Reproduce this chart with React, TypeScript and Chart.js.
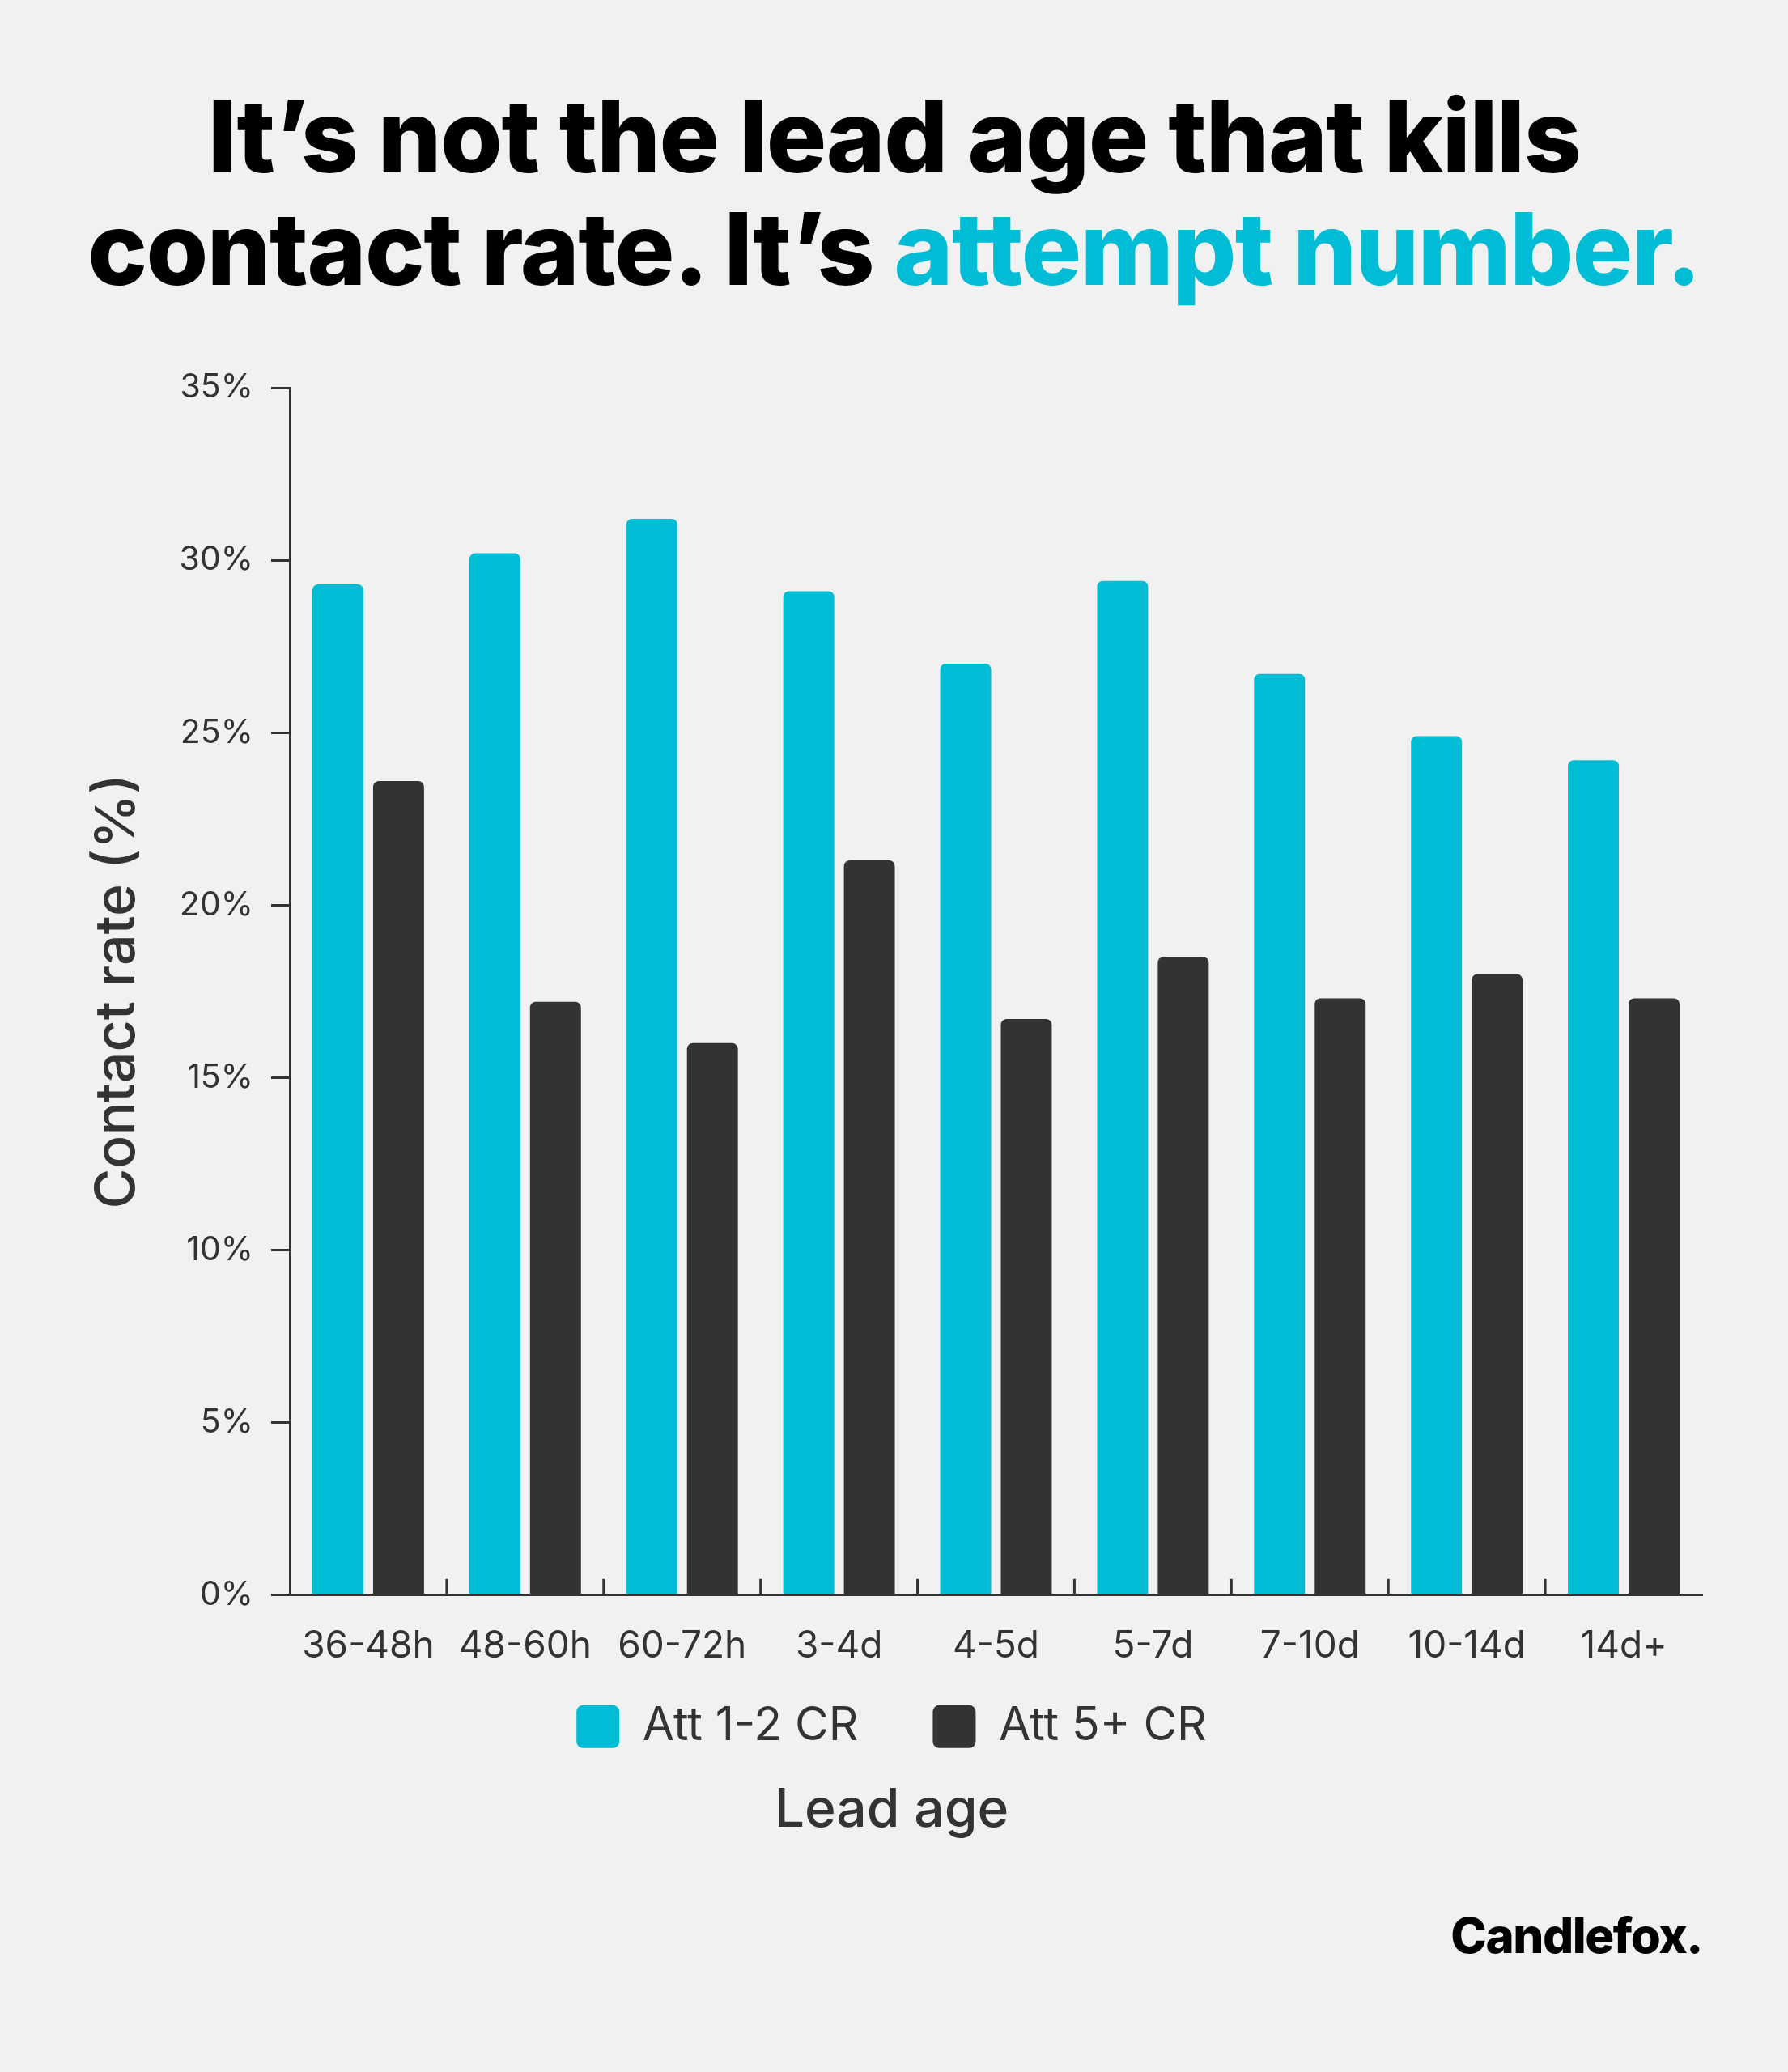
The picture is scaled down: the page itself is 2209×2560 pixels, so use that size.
import React, { useEffect, useRef } from "react";
import { Chart, registerables } from "chart.js";

Chart.register(...registerables);

const categories = ["36-48h", "48-60h", "60-72h", "3-4d", "4-5d", "5-7d", "7-10d", "10-14d", "14d+"];
const att12 = [29.3, 30.2, 31.2, 29.1, 27.0, 29.4, 26.7, 24.9, 24.2];
const att5 = [23.6, 17.2, 16.0, 21.3, 16.7, 18.5, 17.3, 18.0, 17.3];
const seriesLabels = ["Att 1-2 CR", "Att 5+ CR"];
const yMin = 0;
const yMax = 35;
const yStep = 5;

const CYAN = "#00BCD4";
const DARK = "#333333";
const BG = "#F1F1F1";
const FONT = "Inter, 'Noto Sans', sans-serif";

const innerTicks = {
  id: "innerTicks",
  afterDatasetsDraw(chart: any) {
    const x = chart.scales.x;
    const area = chart.chartArea;
    const ctx = chart.ctx;
    ctx.save();
    ctx.strokeStyle = DARK;
    ctx.lineWidth = 3;
    for (let i = 1; i < categories.length; i++) {
      const px = (x.getPixelForValue(i - 1) + x.getPixelForValue(i)) / 2;
      ctx.beginPath();
      ctx.moveTo(px, area.bottom - 20);
      ctx.lineTo(px, area.bottom);
      ctx.stroke();
    }
    ctx.restore();
  },
};

const titleLine: React.CSSProperties = {
  position: "absolute",
  left: 0,
  width: 2209,
  textAlign: "center",
  fontFamily: FONT,
  fontWeight: 800,
  fontSize: 124,
  lineHeight: "124px",
  letterSpacing: -1.5,
  color: "#000",
  whiteSpace: "nowrap",
};

export default function App() {
  const ref = useRef<HTMLCanvasElement | null>(null);

  useEffect(() => {
    if (!ref.current) return;
    const chart = new Chart(ref.current, {
      type: "bar",
      data: {
        labels: categories,
        datasets: [
          {
            label: seriesLabels[0],
            data: att12,
            backgroundColor: CYAN,
            borderWidth: 0,
            borderRadius: 7,
            categoryPercentage: 0.773,
            barPercentage: 0.84,
          },
          {
            label: seriesLabels[1],
            data: att5,
            backgroundColor: DARK,
            borderWidth: 0,
            borderRadius: 7,
            categoryPercentage: 0.773,
            barPercentage: 0.84,
          },
        ],
      },
      plugins: [innerTicks],
      options: {
        animation: false,
        responsive: false,
        devicePixelRatio: 1,
        layout: { padding: { left: 100, right: 106, top: 479, bottom: 283 } },
        plugins: {
          tooltip: { enabled: false },
          legend: {
            position: "bottom",
            maxHeight: 170,
            labels: {
              font: { family: FONT, size: 57 },
              color: DARK,
              boxWidth: 53,
              boxHeight: 53,
              useBorderRadius: true,
              borderRadius: 8,
              padding: 92,
            },
          },
          title: {
            display: true,
            position: "bottom",
            text: "Lead age",
            color: DARK,
            font: { family: FONT, size: 66, weight: "500" },
            padding: { top: 26, bottom: 0 },
          },
        },
        scales: {
          x: {
            grid: { display: false, drawTicks: false },
            border: { display: true, color: DARK, width: 3 },
            ticks: { font: { family: FONT, size: 46 }, color: DARK, padding: 36, maxRotation: 0, autoSkip: false },
            afterFit: (s: any) => {
              s.height = 42;
              s._computeLabelArea = () => undefined;
            },
          },
          y: {
            min: yMin,
            max: yMax,
            ticks: {
              stepSize: yStep,
              font: { family: FONT, size: 41 },
              color: DARK,
              padding: 22,
              callback: (v: any) => v + "%",
            },
            grid: { display: true, drawOnChartArea: false, drawTicks: true, tickLength: 23, color: DARK, lineWidth: 3 },
            border: { display: true, color: DARK, width: 3 },
            title: {
              display: true,
              text: "Contact rate (%)",
              color: DARK,
              font: { family: FONT, size: 68, weight: "500" },
              padding: { top: 5, bottom: 0 },
            },
            afterFit: (s: any) => {
              s.width = 258;
            },
          },
        },
      },
    } as any);
    return () => chart.destroy();
  }, []);

  return (
    <div style={{ position: "absolute", left: 0, top: 0, width: 2209, height: 2560, background: BG, overflow: "hidden" }}>
      <div style={{ ...titleLine, top: 106 }}>It’s not the lead age that kills</div>
      <div style={{ ...titleLine, top: 245 }}>
        contact rate. It’s <span style={{ color: CYAN }}>attempt number.</span>
      </div>
      <canvas ref={ref} width={2209} height={2560} style={{ position: "absolute", left: 0, top: 0, width: 2209, height: 2560 }} />
      <div
        style={{
          position: "absolute",
          right: 2209 - 2103,
          top: 2361,
          fontFamily: FONT,
          fontWeight: 800,
          fontSize: 60,
          lineHeight: "60px",
          letterSpacing: -1.5,
          color: "#000",
          whiteSpace: "nowrap",
        }}
      >
        Candlefox.
      </div>
    </div>
  );
}
